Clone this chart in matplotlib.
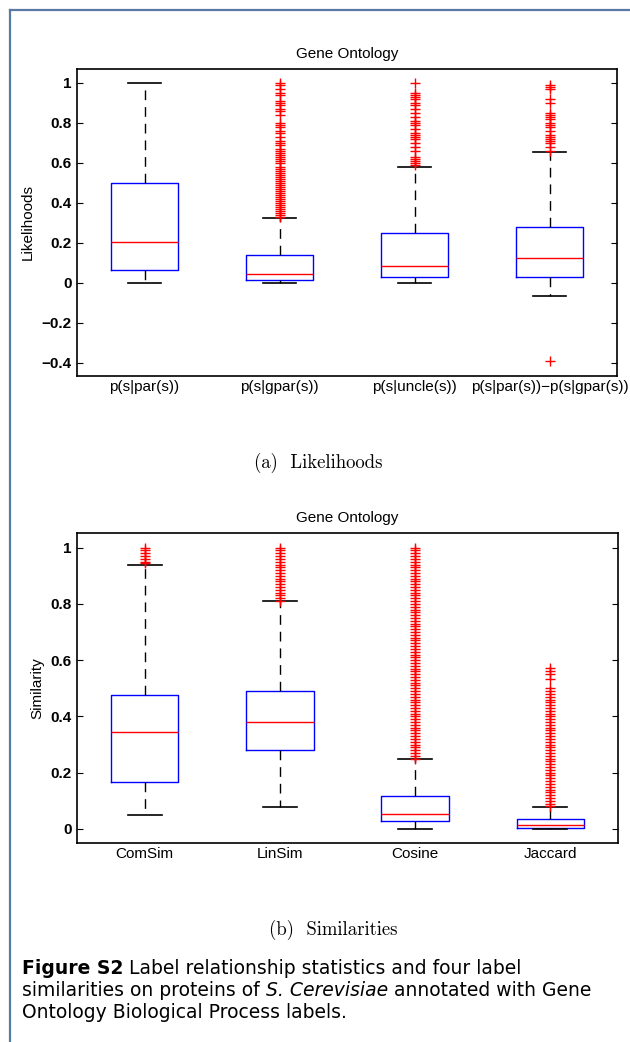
#!/usr/bin/env python3

import matplotlib
matplotlib.use("Agg")
import matplotlib.pyplot as plt
from matplotlib.lines import Line2D

# ---- data ----
lik_labels = ["p(s|par(s))", "p(s|gpar(s))", "p(s|uncle(s))", "p(s|par(s))\u2212p(s|gpar(s))"]
lik_whislo = [0.0, 0.0, 0.0, -0.067]
lik_q1 = [0.065, 0.015, 0.03, 0.03]
lik_med = [0.205, 0.045, 0.085, 0.125]
lik_q3 = [0.50, 0.14, 0.25, 0.28]
lik_whishi = [1.0, 0.325, 0.58, 0.655]
lik_out_par = []
lik_out_gpar = [1.0, 0.99, 0.97, 0.95, 0.94, 0.91, 0.90, 0.89, 0.87, 0.86, 0.84, 0.80,
                0.79, 0.78, 0.76, 0.75, 0.73, 0.71, 0.70, 0.69, 0.67, 0.66, 0.65, 0.64,
                0.63, 0.62, 0.61, 0.60, 0.58, 0.57, 0.56, 0.55, 0.54, 0.53, 0.52, 0.51,
                0.50, 0.49, 0.48, 0.47, 0.46, 0.45, 0.44, 0.43, 0.42, 0.41, 0.40, 0.39,
                0.38, 0.37, 0.36, 0.35, 0.34, 0.33]
lik_out_uncle = [1.0, 0.95, 0.94, 0.93, 0.92, 0.90, 0.89, 0.87, 0.85, 0.83, 0.81, 0.80,
                 0.79, 0.77, 0.75, 0.74, 0.73, 0.72, 0.70, 0.68, 0.66, 0.63, 0.62, 0.61,
                 0.60, 0.59]
lik_out_diff = [0.99, 0.98, 0.97, 0.92, 0.90, 0.85, 0.84, 0.83, 0.82, 0.80, 0.79, 0.78,
                0.76, 0.74, 0.73, 0.72, 0.71, 0.70, 0.68, 0.66, -0.39]

sim_labels = ["ComSim", "LinSim", "Cosine", "Jaccard"]
sim_whislo = [0.05, 0.077, 0.0, 0.0]
sim_q1 = [0.166, 0.28, 0.027, 0.005]
sim_med = [0.344, 0.38, 0.054, 0.014]
sim_q3 = [0.475, 0.49, 0.116, 0.034]
sim_whishi = [0.94, 0.809, 0.248, 0.078]
sim_out_comsim = [1.0, 0.99, 0.98, 0.97, 0.96, 0.95, 0.945]
sim_out_linsim = [1.0, 0.99, 0.98, 0.97, 0.96, 0.95, 0.94, 0.93, 0.92, 0.91, 0.90, 0.89,
                  0.88, 0.87, 0.86, 0.85, 0.84, 0.83, 0.82, 0.81]
sim_out_cosine = [1.0, 0.99, 0.98, 0.97, 0.96, 0.95, 0.94, 0.93, 0.92, 0.91, 0.90, 0.89,
                  0.88, 0.87, 0.86, 0.85, 0.84, 0.83, 0.82, 0.81, 0.80, 0.79, 0.78, 0.77,
                  0.76, 0.75, 0.74, 0.73, 0.72, 0.71, 0.70, 0.69, 0.68, 0.67, 0.66, 0.65,
                  0.64, 0.63, 0.62, 0.61, 0.60, 0.59, 0.58, 0.57, 0.56, 0.55, 0.54, 0.53,
                  0.52, 0.51, 0.50, 0.49, 0.48, 0.47, 0.46, 0.45, 0.44, 0.43, 0.42, 0.41,
                  0.40, 0.39, 0.38, 0.37, 0.36, 0.35, 0.34, 0.33, 0.32, 0.31, 0.30, 0.29,
                  0.28, 0.27, 0.26, 0.25]
sim_out_jaccard = [0.573, 0.561, 0.55, 0.532, 0.50, 0.49, 0.48, 0.47, 0.46, 0.45, 0.44,
                   0.43, 0.42, 0.41, 0.40, 0.39, 0.38, 0.37, 0.36, 0.35, 0.34, 0.33, 0.32,
                   0.31, 0.30, 0.29, 0.28, 0.27, 0.26, 0.25, 0.24, 0.23, 0.22, 0.21, 0.20,
                   0.19, 0.18, 0.17, 0.16, 0.15, 0.14, 0.13, 0.12, 0.11, 0.10, 0.09, 0.08]

lik_fliers = [lik_out_par, lik_out_gpar, lik_out_uncle, lik_out_diff]
sim_fliers = [sim_out_comsim, sim_out_linsim, sim_out_cosine, sim_out_jaccard]

W, H = 630, 1042
SANS = ["Liberation Sans", "DejaVu Sans"]


def make_stats(labels, lo, q1, med, q3, hi, fliers):
    stats = []
    for i in range(len(labels)):
        stats.append(dict(label=labels[i], whislo=lo[i], q1=q1[i], med=med[i],
                          q3=q3[i], whishi=hi[i], fliers=fliers[i]))
    return stats


def draw_box(ax, stats, ylabel, ylim, yticks, ytlabels, label_x):
    ax.bxp(stats, positions=[1, 2, 3, 4], widths=0.5, showfliers=True,
           boxprops=dict(color="#0000ff", linewidth=1.0),
           medianprops=dict(color="#ff0000", linewidth=1.0),
           whiskerprops=dict(color="black", linewidth=1.0, linestyle=(0, (7, 5))),
           capprops=dict(color="black", linewidth=1.2),
           flierprops=dict(marker="+", markeredgecolor="#ff0000", markersize=7,
                           markeredgewidth=1.0, linestyle="none"))
    ax.set_xlim(0.5, 4.5)
    ax.set_ylim(*ylim)
    ax.set_yticks(yticks)
    ax.set_yticklabels(ytlabels, fontweight="bold", fontsize=11, family=SANS)
    for lab in ax.get_xticklabels():
        lab.set_family(SANS)
        lab.set_fontsize(11)
    ax.tick_params(axis="y", direction="in", right=True, length=4, width=0.8, pad=4)
    ax.tick_params(axis="x", length=0, pad=3)
    for s in ax.spines.values():
        s.set_linewidth(1.2)
    ax.set_ylabel(ylabel, fontsize=11, family=SANS)
    ax.yaxis.set_label_coords(label_x, 0.5)
    ax.set_title("Gene Ontology", fontsize=11, family=SANS, pad=8)


fig = plt.figure(figsize=(W / 100, H / 100), dpi=100)

ax1 = fig.add_axes([77 / W, 1 - 376 / H, 540 / W, 307 / H])
draw_box(ax1, make_stats(lik_labels, lik_whislo, lik_q1, lik_med, lik_q3, lik_whishi, lik_fliers),
         "Likelihoods", (-0.465, 1.07),
         [-0.4, -0.2, 0, 0.2, 0.4, 0.6, 0.8, 1.0],
         ["\u22120.4", "\u22120.2", "0", "0.2", "0.4", "0.6", "0.8", "1"],
         (35 - 77) / 540)

ax2 = fig.add_axes([77 / W, 1 - 843 / H, 541 / W, 310 / H])
draw_box(ax2, make_stats(sim_labels, sim_whislo, sim_q1, sim_med, sim_q3, sim_whishi, sim_fliers),
         "Similarity", (-0.05, 1.052),
         [0, 0.2, 0.4, 0.6, 0.8, 1.0],
         ["0", "0.2", "0.4", "0.6", "0.8", "1"],
         (44 - 77) / 541)

# sub-captions (LaTeX style serif)
fig.text(318 / W, 1 - 463 / H, "(a)  Likelihoods", family="cmr10", fontsize=13.5,
         ha="center", va="center")
fig.text(333 / W, 1 - 930 / H, "(b)  Similarities", family="cmr10", fontsize=13.5,
         ha="center", va="center")

# figure caption, pieces drawn one after the other
renderer = fig.canvas.get_renderer()


def text_line(x_px, y_px, pieces, size=13.5):
    x = x_px
    for s, weight, style in pieces:
        t = fig.text(x / W, 1 - y_px / H, s, fontsize=size, fontweight=weight,
                     fontstyle=style, family="DejaVu Sans", ha="left", va="center")
        bb = t.get_window_extent(renderer=renderer)
        x += bb.width


text_line(22, 968, [("Figure S2", "bold", "normal"),
                    (" Label relationship statistics and four label", "normal", "normal")])
text_line(22, 990, [("similarities on proteins of ", "normal", "normal"),
                    ("S. Cerevisiae", "normal", "italic"),
                    (" annotated with Gene", "normal", "normal")])
text_line(22, 1012, [("Ontology Biological Process labels.", "normal", "normal")])

# page frame lines
frame_col = "#5a7aa6"
fig.add_artist(Line2D([9.5 / W, 9.5 / W], [0, 1 - 10 / H], color=frame_col, linewidth=1.6,
                      transform=fig.transFigure))
fig.add_artist(Line2D([9.5 / W, 1], [1 - 10 / H, 1 - 10 / H], color=frame_col, linewidth=1.6,
                      transform=fig.transFigure))

fig.savefig("out.png", dpi=100)
